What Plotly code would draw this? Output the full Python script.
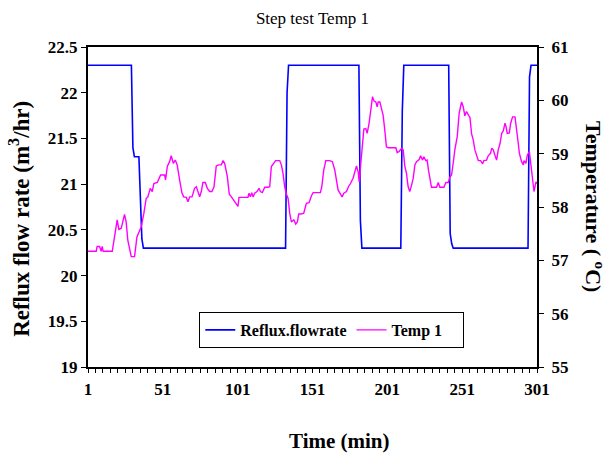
import plotly.graph_objects as go

# ---- data ----
flow_t = [1, 30, 31, 32, 35, 36, 37, 38, 133, 134, 135, 182, 183, 184, 210, 211, 212,
          242, 243, 244, 245, 295, 296, 297, 301]
flow_v = [22.3, 22.3, 21.4, 21.3, 21.3, 20.9, 20.4, 20.3, 20.3, 22.0, 22.3, 22.3, 20.6, 20.3,
          20.3, 21.8, 22.3, 22.3, 20.46, 20.35, 20.3, 20.3, 22.17, 22.3, 22.3]

temp_t = [1, 6.5, 7.1, 8.7, 9.8, 10.5, 11.1, 17.2, 20.5, 21.6, 23.2, 25.4, 26.5, 27.6, 29.9,
          32.1, 33.7, 35.4, 36.6, 38.3, 39.9, 41.0, 42.6, 43.9, 45.0, 47.3, 48.2, 49.5, 52.2,
          52.8, 54.0, 55.5, 56.6, 58.0, 59.3, 60.6, 62.2, 63.8, 64.9, 66.7, 67.8, 68.9, 70.5,
          72.2, 73.4, 74.5, 75.6, 76.7, 77.8, 79.4, 80.7, 82.3, 83.8, 85.2, 86.7, 88.3, 90.1,
          91.2, 92.3, 94.1, 95.4, 96.8, 98.3, 100.1, 101.2, 101.9, 104.6, 107.9, 108.6, 109.5,
          110.4, 111.3, 112.4, 113.9, 115.3, 116.2, 117.5, 119.1, 121.3, 122.4, 123.5, 125.1,
          126.4, 129.1, 130.2, 131.3, 132.4, 133.6, 134.7, 135.8, 136.9, 138.5, 139.8, 140.9,
          141.8, 142.9, 145.1, 146.9, 148.7, 150.3, 151.4, 156.3, 157.2, 158.5, 159.9, 162.5,
          164.3, 165.9, 167.0, 168.1, 169.7, 170.8, 171.9, 173.7, 175.0, 176.4, 178.1, 179.3,
          180.4, 181.5, 182.2, 183.1, 184.4, 185.3, 186.6, 187.5, 188.8, 189.7, 191.1, 192.0,
          193.3, 194.2, 194.9, 196.0, 197.1, 198.2, 199.3, 200.4, 201.6, 206.7, 207.6, 208.9,
          210.5, 211.6, 212.7, 213.8, 214.9, 216.0, 217.2, 218.3, 219.4, 220.5, 222.3, 223.2,
          224.5, 225.4, 226.7, 227.6, 228.5, 229.4, 230.5, 233.9, 235.0, 236.1, 238.8, 240.1,
          241.7, 242.8, 243.9, 245.0, 246.1, 247.7, 249.0, 250.6, 251.7, 252.8, 253.9, 255.3,
          256.2, 257.3, 258.4, 259.5, 260.6, 261.8, 263.3, 264.7, 265.5, 267.3, 268.4, 270.0,
          270.7, 271.8, 272.9, 274.0, 275.1, 276.3, 277.4, 278.5, 279.6, 280.3, 281.1, 282.5,
          283.4, 284.7, 286.3, 287.4, 288.5, 289.2, 290.7, 291.9, 292.3, 293.6, 294.5, 295.9,
          296.8, 298.1, 299.0, 300.3, 301]
temp_v = [57.17, 57.17, 57.26, 57.26, 57.17, 57.26, 57.17, 57.17, 57.76, 57.58, 57.60, 57.86,
          57.72, 57.38, 57.07, 57.07, 57.44, 57.54, 57.63, 57.88, 58.16, 58.19, 58.35, 58.29,
          58.44, 58.46, 58.51, 58.60, 58.60, 58.51, 58.76, 58.85, 58.96, 58.82, 58.88, 58.79,
          58.51, 58.26, 58.19, 58.18, 58.10, 58.19, 58.19, 58.35, 58.38, 58.26, 58.19, 58.29,
          58.46, 58.46, 58.35, 58.29, 58.29, 58.38, 58.77, 58.79, 58.79, 58.87, 58.82, 58.57,
          58.24, 58.19, 58.13, 58.07, 58.01, 58.18, 58.18, 58.18, 58.26, 58.19, 58.27, 58.19,
          58.26, 58.29, 58.35, 58.29, 58.27, 58.37, 58.37, 58.38, 58.76, 58.82, 58.87, 58.87,
          58.79, 58.63, 58.38, 58.24, 58.16, 57.88, 57.72, 57.76, 57.68, 57.72, 57.87, 57.87,
          57.88, 58.07, 58.08, 58.21, 58.27, 58.27, 58.38, 58.69, 58.87, 58.87, 58.85, 58.69,
          58.51, 58.32, 58.24, 58.19, 58.26, 58.29, 58.38, 58.44, 58.54, 58.69, 58.77, 58.66,
          58.47, 58.76, 59.13, 59.46, 59.47, 59.38, 59.57, 59.76, 60.07, 59.99, 59.97, 59.88,
          59.97, 59.97, 59.85, 59.72, 59.44, 59.13, 59.11, 59.11, 59.02, 59.04, 59.10, 59.07,
          58.76, 58.63, 58.38, 58.29, 58.41, 58.54, 58.79, 58.85, 58.89, 58.96, 58.88, 58.94,
          58.87, 58.88, 58.69, 58.51, 58.37, 58.37, 58.46, 58.37, 58.37, 58.46, 58.46, 58.56,
          58.60, 58.82, 59.07, 59.32, 59.76, 59.97, 59.88, 59.71, 59.79, 59.72, 59.68, 59.37,
          59.26, 59.07, 58.97, 58.87, 58.87, 58.81, 58.87, 58.88, 58.96, 59.01, 59.10, 59.07,
          58.97, 58.88, 59.07, 59.19, 59.38, 59.43, 59.57, 59.51, 59.38, 59.39, 59.57, 59.69,
          59.69, 59.47, 59.19, 59.01, 58.85, 58.79, 58.87, 58.82, 58.97, 59.04, 58.82, 58.57,
          58.29, 58.47, 58.44]

x_ticks = [1, 51, 101, 151, 201, 251, 301]
x_minor = list(range(1, 302, 5))
left_ticks = [19, 19.5, 20, 20.5, 21, 21.5, 22, 22.5]
left_labels = ["19", "19.5", "20", "20.5", "21", "21.5", "22", "22.5"]
right_ticks = [55, 56, 57, 58, 59, 60, 61]

FONT = "Liberation Serif"

fig = go.Figure()
fig.add_trace(go.Scatter(x=flow_t, y=flow_v, mode="lines", name="<b>Reflux.flowrate</b>",
                         line=dict(color="#0000FF", width=1.6), yaxis="y"))
fig.add_trace(go.Scatter(x=temp_t, y=temp_v, mode="lines",
                         name="<b>Temp 1</b>&nbsp;&nbsp;&nbsp;&nbsp;",
                         line=dict(color="#FF00FF", width=1.4), yaxis="y2"))

fig.update_layout(
    width=609, height=457,
    margin=dict(l=88, r=72, t=47, b=90),
    paper_bgcolor="white", plot_bgcolor="white",
    font=dict(family=FONT, color="black"),
    title=dict(text="Step test Temp 1", font=dict(size=17, family=FONT),
               x=0.5, xref="paper", xanchor="center", y=1 - 18 / 457, yref="container",
               yanchor="middle"),
    xaxis=dict(range=[1, 301], tickmode="array", tickvals=x_ticks,
               ticks="outside", ticklen=4, tickcolor="black", tickwidth=1,
               minor=dict(tickvals=x_minor, ticks="outside", ticklen=4, tickcolor="black"),
               showline=True, linecolor="black", linewidth=1.5, mirror=True,
               showgrid=False, zeroline=False,
               tickfont=dict(size=17, family=FONT, weight="bold"), ticklabelstandoff=2),
    yaxis=dict(range=[19, 22.5], tickmode="array", tickvals=left_ticks, ticktext=left_labels,
               ticks="outside", ticklen=5, tickcolor="black",
               showline=True, linecolor="black", linewidth=2,
               showgrid=False, zeroline=False,
               tickfont=dict(size=17, family=FONT, weight="bold")),
    yaxis2=dict(range=[55, 61], tickmode="array", tickvals=right_ticks,
                overlaying="y", side="right",
                ticks="outside", ticklen=5, tickcolor="black",
                showline=True, linecolor="black", linewidth=2,
                showgrid=False, zeroline=False,
                tickfont=dict(size=17, family=FONT, weight="bold"), ticklabelstandoff=4),
    legend=dict(orientation="h", x=0.543, xanchor="center", y=0.172, yanchor="top",
                bordercolor="black", borderwidth=1, bgcolor="white",
                font=dict(size=16, family=FONT, color="black")),
    showlegend=True,
)

fig.add_annotation(text="<b>Reflux flow rate (m<sup>3</sup>/hr)</b>", xref="paper", yref="paper",
                   x=-0.154, y=(367 - 219) / 320, textangle=-90, showarrow=False,
                   font=dict(size=23, family=FONT), xanchor="center", yanchor="middle")
fig.add_annotation(text="<b>Temperature ( <sup>o</sup>C)</b>", xref="paper", yref="paper",
                   x=(595 - 88) / 449, y=(367 - 206) / 320, textangle=90, showarrow=False,
                   font=dict(size=22, family=FONT), xanchor="center", yanchor="middle")
fig.add_annotation(text="<b>Time (min)</b>", xref="paper", yref="paper",
                   x=0.56, y=(367 - 441) / 320, showarrow=False,
                   font=dict(size=21, family=FONT), xanchor="center", yanchor="middle")

fig.write_html("out.html")
